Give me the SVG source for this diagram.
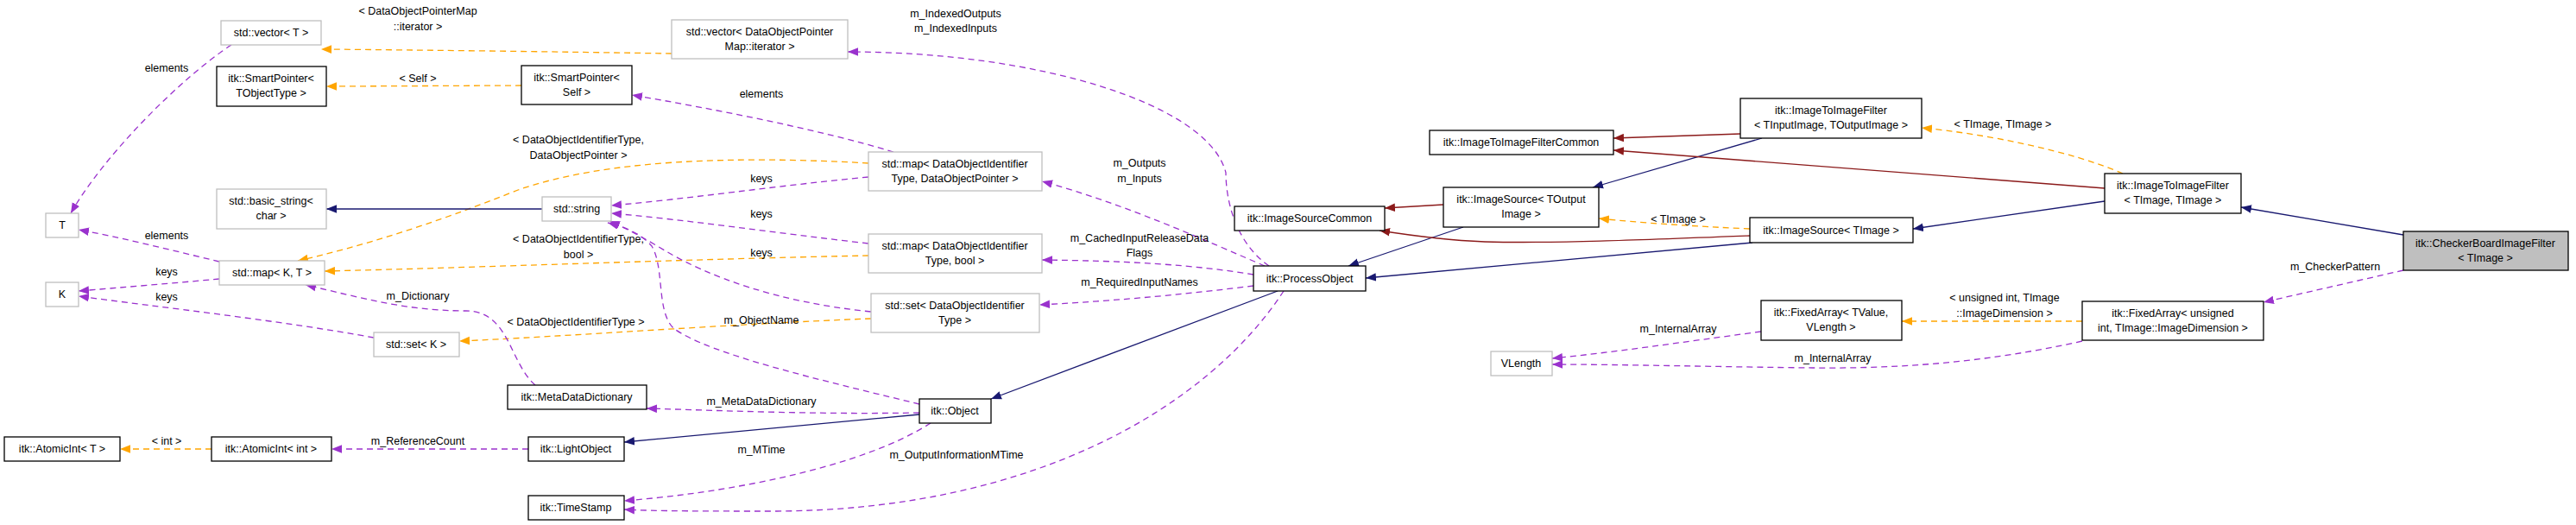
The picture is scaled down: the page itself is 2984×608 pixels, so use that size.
<svg xmlns="http://www.w3.org/2000/svg" width="2984" height="608" viewBox="0 0 2984 608">
<style>
text{font-family:"Liberation Sans",Arial,sans-serif;font-size:12.5px;fill:#000;text-anchor:middle}
.n rect{fill:#fff;stroke:#000;stroke-width:1.3}
.g rect{fill:#fff;stroke:#bfbfbf;stroke-width:1.3}
.h rect{fill:#bfbfbf;stroke:#000;stroke-width:1.3}
path{fill:none;stroke-width:1.3}
.b{stroke:#191970}
.r{stroke:#8b1a1a}
.o{stroke:#ffa500;stroke-dasharray:7,5}
.p{stroke:#9a32cd;stroke-dasharray:7,5}
</style>
<defs>
<marker id="mb" viewBox="0 0 10 8" refX="10" refY="4" markerWidth="12" markerHeight="10" markerUnits="userSpaceOnUse" orient="auto"><path d="M0,0L10,4L0,8z" style="fill:#191970;stroke:none"/></marker>
<marker id="mr" viewBox="0 0 10 8" refX="10" refY="4" markerWidth="12" markerHeight="10" markerUnits="userSpaceOnUse" orient="auto"><path d="M0,0L10,4L0,8z" style="fill:#8b1a1a;stroke:none"/></marker>
<marker id="mo" viewBox="0 0 10 8" refX="10" refY="4" markerWidth="12" markerHeight="10" markerUnits="userSpaceOnUse" orient="auto"><path d="M0,0L10,4L0,8z" style="fill:#ffa500;stroke:none"/></marker>
<marker id="mp" viewBox="0 0 10 8" refX="10" refY="4" markerWidth="12" markerHeight="10" markerUnits="userSpaceOnUse" orient="auto"><path d="M0,0L10,4L0,8z" style="fill:#9a32cd;stroke:none"/></marker>
</defs>
<rect width="2984" height="608" fill="#fff"/>
<g id="edges">
<path class="o" marker-end="url(#mo)" d="M778,62 C650,60 500,58 372,57"/>
<text x="484" y="17">&lt; DataObjectPointerMap</text><text x="484" y="35">::iterator &gt;</text>
<path class="p" marker-end="url(#mp)" d="M268,52 C210,90 120,180 82,247"/>
<text x="193" y="83">elements</text>
<path class="o" marker-end="url(#mo)" d="M604,99 L378,100"/>
<text x="484" y="95">&lt; Self &gt;</text>
<path class="p" marker-end="url(#mp)" d="M1035,176 C950,150 820,125 732,110"/>
<text x="882" y="113">elements</text>
<path class="o" marker-end="url(#mo)" d="M1006,189 C850,180 700,185 600,220 C500,260 420,285 345,302"/>
<text x="670" y="166">&lt; DataObjectIdentifierType,</text><text x="670" y="184">DataObjectPointer &gt;</text>
<path class="p" marker-end="url(#mp)" d="M1006,205 C900,215 800,230 708,238"/>
<text x="882" y="211">keys</text>
<path class="b" marker-end="url(#mb)" d="M628,242 L378,242"/>
<path class="p" marker-end="url(#mp)" d="M1006,282 C900,270 800,255 708,247"/>
<text x="882" y="252">keys</text>
<path class="o" marker-end="url(#mo)" d="M1006,296 C800,300 550,310 376,314"/>
<text x="670" y="281">&lt; DataObjectIdentifierType,</text><text x="670" y="299">bool &gt;</text>
<path class="p" marker-end="url(#mp)" d="M254,303 C200,290 140,275 91,266"/>
<text x="193" y="277">elements</text>
<path class="p" marker-end="url(#mp)" d="M254,323 C200,328 140,333 91,337"/>
<text x="193" y="319">keys</text>
<path class="p" marker-end="url(#mp)" d="M433,391 C330,372 180,355 91,343"/>
<text x="193" y="348">keys</text>
<path class="o" marker-end="url(#mo)" d="M1009,369 C850,375 650,390 532,395"/>
<text x="667" y="377">&lt; DataObjectIdentifierType &gt;</text>
<path class="p" marker-end="url(#mp)" d="M1009,361 C900,350 820,320 770,290 C740,272 720,262 706,256"/>
<text x="882" y="297">keys</text>
<path class="p" marker-end="url(#mp)" d="M1065,468 C950,440 820,410 780,380 C760,360 770,310 755,285 C740,268 720,262 704,258"/>
<text x="882" y="375">m_ObjectName</text>
<path class="p" marker-end="url(#mp)" d="M620,446 C590,420 590,360 540,360 C470,360 420,345 354,330"/>
<text x="484" y="347">m_Dictionary</text>
<path class="p" marker-end="url(#mp)" d="M1065,478 C950,480 850,476 749,473"/>
<text x="882" y="469">m_MetaDataDictionary</text>
<path class="b" marker-end="url(#mb)" d="M1065,480 L723,512"/>
<path class="p" marker-end="url(#mp)" d="M612,520 L384,520"/>
<text x="484" y="515">m_ReferenceCount</text>
<path class="o" marker-end="url(#mo)" d="M245,520 L139,520"/>
<text x="193" y="515">&lt; int &gt;</text>
<path class="p" marker-end="url(#mp)" d="M1078,490 C1000,540 850,570 723,580"/>
<text x="882" y="525">m_MTime</text>
<path class="p" marker-end="url(#mp)" d="M1487,337 C1400,470 1200,590 900,592 C820,592 760,592 723,590"/>
<text x="1108" y="531">m_OutputInformationMTime</text>
<path class="b" marker-end="url(#mb)" d="M1480,337 L1148,462"/>
<path class="p" marker-end="url(#mp)" d="M1470,308 C1430,280 1420,230 1420,200 C1400,120 1200,60 982,60"/>
<text x="1107" y="20">m_IndexedOutputs</text><text x="1107" y="37">m_IndexedInputs</text>
<path class="p" marker-end="url(#mp)" d="M1465,308 C1400,280 1300,235 1207,210"/>
<text x="1320" y="193">m_Outputs</text><text x="1320" y="211">m_Inputs</text>
<path class="p" marker-end="url(#mp)" d="M1452,318 C1380,306 1300,302 1207,301"/>
<text x="1320" y="280">m_CachedInputReleaseData</text><text x="1320" y="297">Flags</text>
<path class="p" marker-end="url(#mp)" d="M1452,331 C1380,340 1300,348 1204,353"/>
<text x="1320" y="331">m_RequiredInputNames</text>
<path class="r" marker-end="url(#mr)" d="M1672,237 L1604,241"/>
<path class="b" marker-end="url(#mb)" d="M1695,263 L1562,308"/>
<path class="r" marker-end="url(#mr)" d="M2027,273 C1900,278 1800,282 1720,280 C1670,278 1630,272 1598,267"/>
<path class="o" marker-end="url(#mo)" d="M2027,265 C1960,262 1900,258 1852,253"/>
<text x="1944" y="258">&lt; TImage &gt;</text>
<path class="b" marker-end="url(#mb)" d="M2030,281 L1582,322"/>
<path class="r" marker-end="url(#mr)" d="M2016,155 L1869,160"/>
<path class="b" marker-end="url(#mb)" d="M2041,160 L1845,217"/>
<path class="r" marker-end="url(#mr)" d="M2438,218 L1869,174"/>
<path class="o" marker-end="url(#mo)" d="M2459,201 C2400,175 2300,155 2226,148"/>
<text x="2320" y="148">&lt; TImage, TImage &gt;</text>
<path class="b" marker-end="url(#mb)" d="M2438,233 L2216,265"/>
<path class="b" marker-end="url(#mb)" d="M2784,272 L2596,240"/>
<path class="p" marker-end="url(#mp)" d="M2784,313 L2622,350"/>
<text x="2705" y="313">m_CheckerPattern</text>
<path class="o" marker-end="url(#mo)" d="M2412,372 L2203,372"/>
<text x="2322" y="349">&lt; unsigned int, TImage</text><text x="2322" y="367">::ImageDimension &gt;</text>
<path class="p" marker-end="url(#mp)" d="M2040,384 C1950,396 1870,408 1798,415"/>
<text x="1944" y="385">m_InternalArray</text>
<path class="p" marker-end="url(#mp)" d="M2412,395 C2300,420 2200,427 2100,426 C2000,425 1880,422 1798,422"/>
<text x="2123" y="419">m_InternalArray</text>
</g>
<g id="n1" class="g"><rect x="256" y="24" width="116" height="28"/><text x="314" y="42">std::vector&lt; T &gt;</text></g>
<g id="n2" class="n"><rect x="251" y="77" width="127" height="46"/><text x="314" y="95">itk::SmartPointer&lt;</text><text x="314" y="112">TObjectType &gt;</text></g>
<g id="n3" class="n"><rect x="604" y="76" width="128" height="45"/><text x="668" y="94">itk::SmartPointer&lt;</text><text x="668" y="111">Self &gt;</text></g>
<g id="n4" class="g"><rect x="53" y="247" width="38" height="28"/><text x="72" y="265">T</text></g>
<g id="n5" class="g"><rect x="251" y="219" width="127" height="46"/><text x="314" y="237">std::basic_string&lt;</text><text x="314" y="254">char &gt;</text></g>
<g id="n6" class="g"><rect x="628" y="228" width="80" height="28"/><text x="668" y="246">std::string</text></g>
<g id="n7" class="g"><rect x="254" y="302" width="122" height="28"/><text x="315" y="320">std::map&lt; K, T &gt;</text></g>
<g id="n8" class="g"><rect x="53" y="327" width="38" height="28"/><text x="72" y="345">K</text></g>
<g id="n9" class="g"><rect x="433" y="385" width="99" height="28"/><text x="482" y="403">std::set&lt; K &gt;</text></g>
<g id="n10" class="n"><rect x="588" y="446" width="161" height="28"/><text x="668" y="464">itk::MetaDataDictionary</text></g>
<g id="n11" class="n"><rect x="5" y="506" width="134" height="28"/><text x="72" y="524">itk::AtomicInt&lt; T &gt;</text></g>
<g id="n12" class="n"><rect x="245" y="506" width="139" height="28"/><text x="314" y="524">itk::AtomicInt&lt; int &gt;</text></g>
<g id="n13" class="n"><rect x="612" y="506" width="111" height="28"/><text x="667" y="524">itk::LightObject</text></g>
<g id="n14" class="n"><rect x="612" y="574" width="111" height="28"/><text x="667" y="592">itk::TimeStamp</text></g>
<g id="n15" class="g"><rect x="778" y="23" width="204" height="45"/><text x="880" y="41">std::vector&lt; DataObjectPointer</text><text x="880" y="58">Map::iterator &gt;</text></g>
<g id="n16" class="g"><rect x="1006" y="176" width="201" height="45"/><text x="1106" y="194">std::map&lt; DataObjectIdentifier</text><text x="1106" y="211">Type, DataObjectPointer &gt;</text></g>
<g id="n17" class="g"><rect x="1006" y="271" width="201" height="45"/><text x="1106" y="289">std::map&lt; DataObjectIdentifier</text><text x="1106" y="306">Type, bool &gt;</text></g>
<g id="n18" class="g"><rect x="1009" y="340" width="195" height="45"/><text x="1106" y="358">std::set&lt; DataObjectIdentifier</text><text x="1106" y="375">Type &gt;</text></g>
<g id="n19" class="n"><rect x="1065" y="462" width="83" height="28"/><text x="1106" y="480">itk::Object</text></g>
<g id="n20" class="n"><rect x="1452" y="308" width="130" height="29"/><text x="1517" y="327">itk::ProcessObject</text></g>
<g id="n21" class="n"><rect x="1430" y="239" width="174" height="28"/><text x="1517" y="257">itk::ImageSourceCommon</text></g>
<g id="n22" class="n"><rect x="1672" y="217" width="180" height="46"/><text x="1762" y="235">itk::ImageSource&lt; TOutput</text><text x="1762" y="252">Image &gt;</text></g>
<g id="n23" class="n"><rect x="1656" y="151" width="213" height="28"/><text x="1762" y="169">itk::ImageToImageFilterCommon</text></g>
<g id="n24" class="n"><rect x="2016" y="114" width="210" height="46"/><text x="2121" y="132">itk::ImageToImageFilter</text><text x="2121" y="149">&lt; TInputImage, TOutputImage &gt;</text></g>
<g id="n25" class="n"><rect x="2027" y="252" width="189" height="29"/><text x="2121" y="271">itk::ImageSource&lt; TImage &gt;</text></g>
<g id="n26" class="n"><rect x="2040" y="348" width="163" height="46"/><text x="2121" y="366">itk::FixedArray&lt; TValue,</text><text x="2121" y="383">VLength &gt;</text></g>
<g id="n27" class="g"><rect x="1727" y="407" width="71" height="28"/><text x="1762" y="425">VLength</text></g>
<g id="n28" class="n"><rect x="2438" y="201" width="158" height="46"/><text x="2517" y="219">itk::ImageToImageFilter</text><text x="2517" y="236">&lt; TImage, TImage &gt;</text></g>
<g id="n29" class="h"><rect x="2784" y="268" width="191" height="45"/><text x="2879" y="286">itk::CheckerBoardImageFilter</text><text x="2879" y="303">&lt; TImage &gt;</text></g>
<g id="n30" class="n"><rect x="2412" y="349" width="210" height="45"/><text x="2517" y="367">itk::FixedArray&lt; unsigned</text><text x="2517" y="384">int, TImage::ImageDimension &gt;</text></g>
</svg>
